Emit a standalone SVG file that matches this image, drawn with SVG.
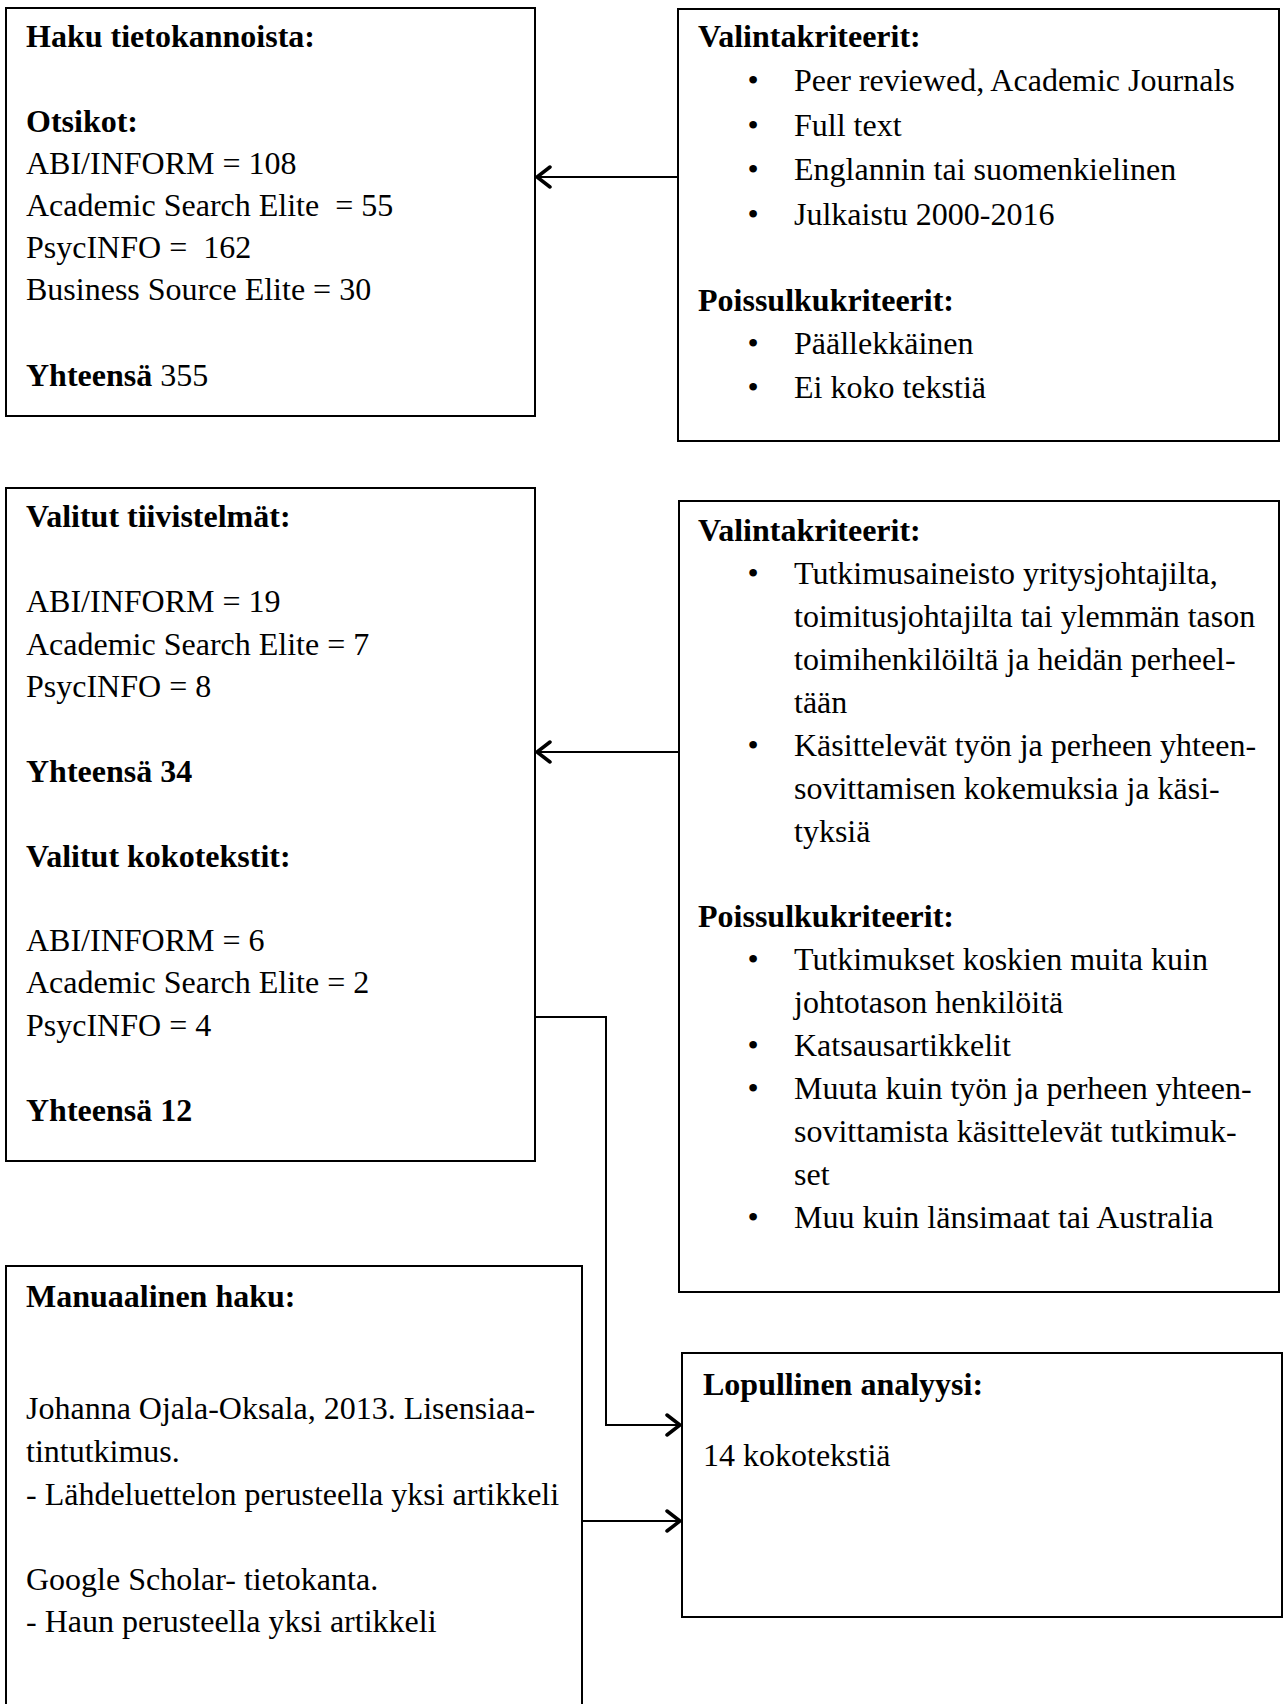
<svg xmlns="http://www.w3.org/2000/svg" width="1287" height="1704" viewBox="0 0 1287 1704">
<style>
  .box { fill: #fff; stroke: #000; stroke-width: 2; }
  text { font-family: "Liberation Serif", "Times New Roman", serif; font-size: 32px; fill: #000; }
  .b { font-weight: bold; }
  .bul { text-anchor: middle; }
  .conn { fill: none; stroke: #000; stroke-width: 2; }
  .ah { fill: none; stroke: #000; stroke-width: 3.5; stroke-linecap: round; stroke-linejoin: miter; }
</style>
<defs>
  <marker id="arrow" viewBox="0 0 20 24" refX="17" refY="12" markerWidth="20" markerHeight="24" markerUnits="userSpaceOnUse" orient="auto">
    <path class="ah" d="M4,2 L17,12 L4,22"/>
  </marker>
</defs>
<rect x="0" y="0" width="1287" height="1704" fill="#fff"/>

<g id="haku">
  <rect class="box" x="6" y="8" width="529" height="408"/>
  <text class="b" x="26" y="47">Haku tietokannoista:</text>
  <text class="b" x="26" y="132">Otsikot:</text>
  <text x="26" y="174">ABI/INFORM = 108</text>
  <text x="26" y="216" xml:space="preserve">Academic Search Elite  = 55</text>
  <text x="26" y="258" xml:space="preserve">PsycINFO =  162</text>
  <text x="26" y="300">Business Source Elite = 30</text>
  <text x="26" y="386"><tspan class="b">Yhteensä</tspan> 355</text>
</g>

<g id="kriteerit1">
  <rect class="box" x="678" y="9" width="601" height="432"/>
  <text class="b" x="698" y="47">Valintakriteerit:</text>
  <text class="bul" x="753" y="91">•</text><text x="794" y="91">Peer reviewed, Academic Journals</text>
  <text class="bul" x="753" y="136">•</text><text x="794" y="136">Full text</text>
  <text class="bul" x="753" y="180">•</text><text x="794" y="180">Englannin tai suomenkielinen</text>
  <text class="bul" x="753" y="225">•</text><text x="794" y="225">Julkaistu 2000-2016</text>
  <text class="b" x="698" y="311">Poissulkukriteerit:</text>
  <text class="bul" x="753" y="354">•</text><text x="794" y="354">Päällekkäinen</text>
  <text class="bul" x="753" y="398">•</text><text x="794" y="398">Ei koko tekstiä</text>
</g>

<g id="valitut">
  <rect class="box" x="6" y="488" width="529" height="673"/>
  <text class="b" x="26" y="527">Valitut tiivistelmät:</text>
  <text x="26" y="612">ABI/INFORM = 19</text>
  <text x="26" y="655">Academic Search Elite = 7</text>
  <text x="26" y="697">PsycINFO = 8</text>
  <text class="b" x="26" y="782">Yhteensä 34</text>
  <text class="b" x="26" y="867">Valitut kokotekstit:</text>
  <text x="26" y="951">ABI/INFORM = 6</text>
  <text x="26" y="993">Academic Search Elite = 2</text>
  <text x="26" y="1036">PsycINFO = 4</text>
  <text class="b" x="26" y="1121">Yhteensä 12</text>
</g>

<g id="kriteerit2">
  <rect class="box" x="679" y="501" width="600" height="791"/>
  <text class="b" x="698" y="541">Valintakriteerit:</text>
  <text class="bul" x="753" y="584">•</text><text x="794" y="584">Tutkimusaineisto yritysjohtajilta,</text>
  <text x="794" y="627">toimitusjohtajilta tai ylemmän tason</text>
  <text x="794" y="670">toimihenkilöiltä ja heidän perheel-</text>
  <text x="794" y="713">tään</text>
  <text class="bul" x="753" y="756">•</text><text x="794" y="756">Käsittelevät työn ja perheen yhteen-</text>
  <text x="794" y="799">sovittamisen kokemuksia ja käsi-</text>
  <text x="794" y="842">tyksiä</text>
  <text class="b" x="698" y="927">Poissulkukriteerit:</text>
  <text class="bul" x="753" y="970">•</text><text x="794" y="970">Tutkimukset koskien muita kuin</text>
  <text x="794" y="1013">johtotason henkilöitä</text>
  <text class="bul" x="753" y="1056">•</text><text x="794" y="1056">Katsausartikkelit</text>
  <text class="bul" x="753" y="1099">•</text><text x="794" y="1099">Muuta kuin työn ja perheen yhteen-</text>
  <text x="794" y="1142">sovittamista käsittelevät tutkimuk-</text>
  <text x="794" y="1185">set</text>
  <text class="bul" x="753" y="1228">•</text><text x="794" y="1228">Muu kuin länsimaat tai Australia</text>
</g>

<g id="manuaalinen">
  <rect class="box" x="6" y="1266" width="576" height="460"/>
  <text class="b" x="26" y="1307">Manuaalinen haku:</text>
  <text x="26" y="1419">Johanna Ojala-Oksala, 2013. Lisensiaa-</text>
  <text x="26" y="1462">tintutkimus.</text>
  <text x="26" y="1505">- Lähdeluettelon perusteella yksi artikkeli</text>
  <text x="26" y="1590">Google Scholar- tietokanta.</text>
  <text x="26" y="1632">- Haun perusteella yksi artikkeli</text>
</g>

<g id="lopullinen">
  <rect class="box" x="682" y="1353" width="600" height="264"/>
  <text class="b" x="703" y="1395">Lopullinen analyysi:</text>
  <text x="703" y="1466">14 kokotekstiä</text>
</g>

<g id="connectors">
  <path class="conn" d="M678,177 H537" marker-end="url(#arrow)"/>
  <path class="conn" d="M679,752 H537" marker-end="url(#arrow)"/>
  <path class="conn" d="M535,1017 H606 V1425 H680" marker-end="url(#arrow)"/>
  <path class="conn" d="M582,1521 H680" marker-end="url(#arrow)"/>
</g>
</svg>
